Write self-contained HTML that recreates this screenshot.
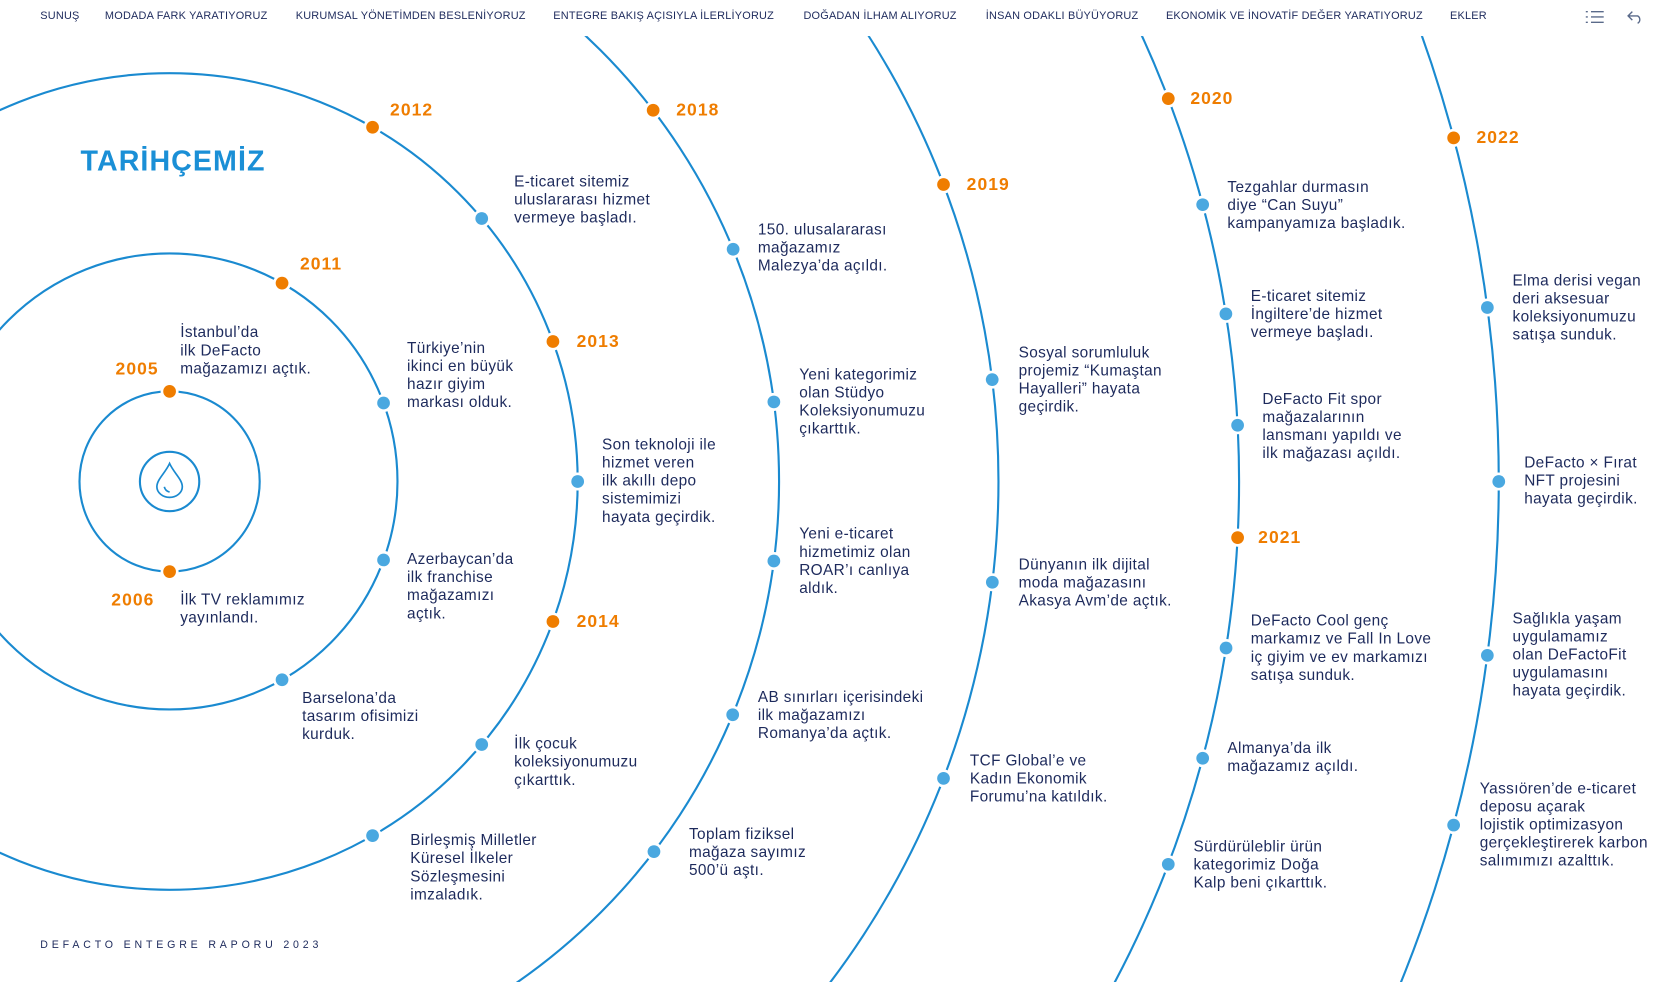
<!DOCTYPE html>
<html><head><meta charset="utf-8">
<style>
html,body{margin:0;padding:0;background:#fff;overflow:hidden;width:1662px;height:982px}
#wrap{position:absolute;left:0;top:0;width:1568px;height:926px;overflow:hidden;transform:scale(1.05995,1.0605);transform-origin:0 0;font-family:"Liberation Sans",sans-serif}
svg{position:absolute;left:0;top:0;overflow:hidden}
.nav{position:absolute;top:0;left:0;width:1568px;height:34px;background:#fff}
.nav span{position:absolute;top:10px;font-size:10.3px;color:#1d2a5c;letter-spacing:.2px;white-space:nowrap}
.t{position:absolute;font-size:14.5px;line-height:17px;color:#1d2a5c;white-space:nowrap;letter-spacing:.35px}
.yr{position:absolute;font-size:16.5px;font-weight:bold;color:#ef7d00;letter-spacing:1px;line-height:18px}
</style></head><body>
<div id="wrap">
<svg id="chart" width="1568" height="926"></svg>
<div class="nav">
<span style="left:38px">SUNUŞ</span>
<span style="left:99px">MODADA FARK YARATIYORUZ</span>
<span style="left:279px">KURUMSAL YÖNETİMDEN BESLENİYORUZ</span>
<span style="left:522px">ENTEGRE BAKIŞ AÇISIYLA İLERLİYORUZ</span>
<span style="left:758px">DOĞADAN İLHAM ALIYORUZ</span>
<span style="left:930px">İNSAN ODAKLI BÜYÜYORUZ</span>
<span style="left:1100px">EKONOMİK VE İNOVATİF DEĞER YARATIYORUZ</span>
<span style="left:1368px">EKLER</span>
<svg style="left:1496px;top:9px" width="18" height="14"><g stroke="#5a6a8a" stroke-width="1.3"><line x1="0" y1="2" x2="2" y2="2"/><line x1="5" y1="2" x2="17" y2="2"/><line x1="0" y1="7" x2="2" y2="7"/><line x1="5" y1="7" x2="17" y2="7"/><line x1="0" y1="12" x2="2" y2="12"/><line x1="5" y1="12" x2="17" y2="12"/></g></svg>
<svg style="left:1535px;top:9px" width="16" height="14"><path d="M5 2 L1 6 L5 10 M1 6 H10 A4 4 0 0 1 10 13" fill="none" stroke="#5a6a8a" stroke-width="1.3"/></svg>
</div>
<div style="position:absolute;left:76px;top:137px;font-size:27px;font-weight:bold;color:#1a8fd6;letter-spacing:1px">TARİHÇEMİZ</div>
<div style="position:absolute;left:38px;top:886px;font-size:10px;color:#1d2a5c;letter-spacing:3.6px">DEFACTO ENTEGRE RAPORU 2023</div>
<div id="labels"></div>
</div>
<script>
const cx=160, cy=454;
const ringRadii=[85,215,385,575,782,1009,1254];
const events=[
{r:0,y:369,k:'o',yr:'2005',yx:109,yy:348,tx:170,ty:314,l:["İstanbul’da","ilk DeFacto","mağazamızı açtık."]},
{r:0,y:539,k:'o',yr:'2006',yx:105,yy:566,tx:170,ty:566,l:["İlk TV reklamımız","yayınlandı."]},
{r:1,y:267,k:'o',yr:'2011',yx:283,yy:249},
{r:1,y:380,k:'b',tx:384,ty:329,l:["Türkiye’nin","ikinci en büyük","hazır giyim","markası olduk."]},
{r:1,y:528,k:'b',tx:384,ty:528,l:["Azerbaycan’da","ilk franchise","mağazamızı","açtık."]},
{r:1,y:641,k:'b',tx:285,ty:659,l:["Barselona’da","tasarım ofisimizi","kurduk."]},
{r:2,y:120,k:'o',yr:'2012',yx:368,yy:104},
{r:2,y:206,k:'b',tx:485,ty:172,l:["E-ticaret sitemiz","uluslararası hizmet","vermeye başladı."]},
{r:2,y:322,k:'o',yr:'2013',yx:544,yy:322},
{r:2,y:454,k:'b',tx:568,ty:420,l:["Son teknoloji ile","hizmet veren","ilk akıllı depo","sistemimizi","hayata geçirdik."]},
{r:2,y:586,k:'o',yr:'2014',yx:544,yy:586},
{r:2,y:702,k:'b',tx:485,ty:702,l:["İlk çocuk","koleksiyonumuzu","çıkarttık."]},
{r:2,y:788,k:'b',tx:387,ty:793,l:["Birleşmiş Milletler","Küresel İlkeler","Sözleşmesini","imzaladık."]},
{r:3,y:104,k:'o',yr:'2018',yx:638,yy:104},
{r:3,y:235,k:'b',tx:715,ty:217,l:["150. ulusalararası","mağazamız","Malezya’da açıldı."]},
{r:3,y:379,k:'b',tx:754,ty:354,l:["Yeni kategorimiz","olan Stüdyo","Koleksiyonumuzu","çıkarttık."]},
{r:3,y:529,k:'b',tx:754,ty:504,l:["Yeni e-ticaret","hizmetimiz olan","ROAR’ı canlıya","aldık."]},
{r:3,y:674,k:'b',tx:715,ty:658,l:["AB sınırları içerisindeki","ilk mağazamızı","Romanya’da açtık."]},
{r:3,y:803,k:'b',tx:650,ty:787,l:["Toplam fiziksel","mağaza sayımız","500’ü aştı."]},
{r:4,y:174,k:'o',yr:'2019',yx:912,yy:174},
{r:4,y:358,k:'b',tx:961,ty:333,l:["Sosyal sorumluluk","projemiz “Kumaştan","Hayalleri” hayata","geçirdik."]},
{r:4,y:549,k:'b',tx:961,ty:533,l:["Dünyanın ilk dijital","moda mağazasını","Akasya Avm’de açtık."]},
{r:4,y:734,k:'b',tx:915,ty:718,l:["TCF Global’e ve","Kadın Ekonomik","Forumu’na katıldık."]},
{r:5,y:93,k:'o',yr:'2020',yx:1123,yy:93},
{r:5,y:193,k:'b',tx:1158,ty:177,l:["Tezgahlar durmasın","diye “Can Suyu”","kampanyamıza başladık."]},
{r:5,y:296,k:'b',tx:1180,ty:280,l:["E-ticaret sitemiz","İngiltere’de hizmet","vermeye başladı."]},
{r:5,y:401,k:'b',tx:1191,ty:377,l:["DeFacto Fit spor","mağazalarının","lansmanı yapıldı ve","ilk mağazası açıldı."]},
{r:5,y:507,k:'o',yr:'2021',yx:1187,yy:507},
{r:5,y:611,k:'b',tx:1180,ty:586,l:["DeFacto Cool genç","markamız ve Fall In Love","iç giyim ve ev markamızı","satışa sunduk."]},
{r:5,y:715,k:'b',tx:1158,ty:706,l:["Almanya’da ilk","mağazamız açıldı."]},
{r:5,y:815,k:'b',tx:1126,ty:799,l:["Sürdürüleblir ürün","kategorimiz Doğa","Kalp beni çıkarttık."]},
{r:6,y:130,k:'o',yr:'2022',yx:1393,yy:130},
{r:6,y:290,k:'b',tx:1427,ty:265,l:["Elma derisi vegan","deri aksesuar","koleksiyonumuzu","satışa sunduk."]},
{r:6,y:454,k:'b',tx:1438,ty:437,l:["DeFacto × Fırat","NFT projesini","hayata geçirdik."]},
{r:6,y:618,k:'b',tx:1427,ty:584,l:["Sağlıkla yaşam","uygulamamız","olan DeFactoFit","uygulamasını","hayata geçirdik."]},
{r:6,y:778,k:'b',tx:1396,ty:744,l:["Yassıören’de e-ticaret","deposu açarak","lojistik optimizasyon","gerçekleştirerek karbon","salımımızı azalttık."]}
];
const NS='http://www.w3.org/2000/svg';
const svg=document.getElementById('chart');
const labels=document.getElementById('labels');
function mk(t,a){const e=document.createElementNS(NS,t);for(const k in a)e.setAttribute(k,a[k]);svg.appendChild(e);return e;}
function xAt(ri,y){const r=ringRadii[ri],dy=y-cy;return cx+Math.sqrt(Math.max(0,r*r-dy*dy));}
ringRadii.forEach((r,i)=>{
  const c=mk('circle',{cx:cx,cy:cy,r:r,fill:'none',stroke:'#1a8ad0','stroke-width':2});
  
  
});
const ic=mk('circle',{cx:cx,cy:cy,r:28,fill:'none',stroke:'#1a8ad0','stroke-width':2});


const dp=mk('path',{d:`M${cx} ${cy-17} C${cx-4} ${cy-8} ${cx-12} ${cy-2} ${cx-12} ${cy+5} A12 10 0 0 0 ${cx+12} ${cy+5} C${cx+12} ${cy-2} ${cx+4} ${cy-8} ${cx} ${cy-17} Z M${cx-5} ${cy+5} Q${cx-4} ${cy+9} ${cx} ${cy+10}`,fill:'none',stroke:'#1a8ad0','stroke-width':1.6});


events.forEach((ev,i)=>{
  const x=xAt(ev.r,ev.y);
  const d=mk('circle',{cx:x,cy:ev.y,r:6,fill:ev.k==='o'?'#ef7d00':'#4aa8e0',stroke:'#fff','stroke-width':5,'paint-order':'stroke'});
  
  
  if(ev.yr){
    const y=document.createElement('div');y.className='yr';y.textContent=ev.yr;
    y.style.left=ev.yx+'px';y.style.top=(ev.yy-9)+'px';
    
    
    labels.appendChild(y);
  }
  if(ev.l){
    const t=document.createElement('div');t.className='t';t.innerHTML=ev.l.join('<br>');
    t.style.left=ev.tx+'px';t.style.top=(ev.ty-8.5)+'px';
    
    
    labels.appendChild(t);
  }
});
</script>
</body></html>
